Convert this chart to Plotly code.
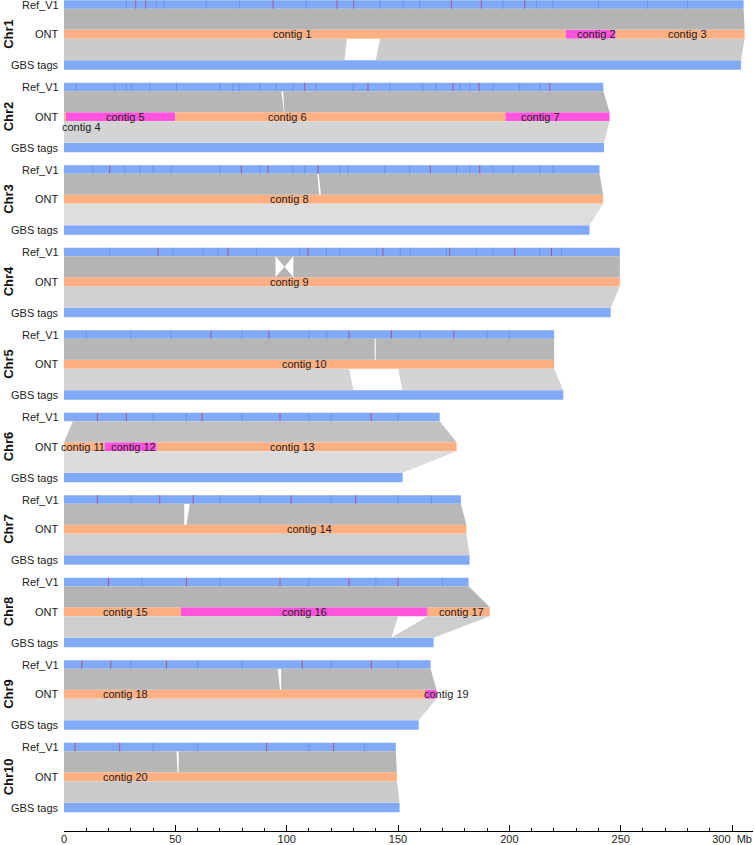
import plotly.graph_objects as go

# ---------------- data (Mb) ----------------
chroms = ["Chr1", "Chr2", "Chr3", "Chr4", "Chr5", "Chr6", "Chr7", "Chr8", "Chr9", "Chr10"]
ref_len = [305.2, 242.2, 240.5, 249.6, 220.1, 168.7, 178.2, 181.7, 164.6, 149.0]
ont_len = [305.6, 245.0, 242.1, 249.6, 220.1, 176.3, 180.7, 191.2, 167.3, 149.5]
gbs_len = [304.0, 242.5, 236.0, 245.5, 224.2, 152.1, 182.1, 166.0, 159.3, 150.7]

contig_names = ["contig 1", "contig 2", "contig 3", "contig 4", "contig 5", "contig 6", "contig 7",
                "contig 8", "contig 9", "contig 10", "contig 11", "contig 12", "contig 13",
                "contig 14", "contig 15", "contig 16", "contig 17", "contig 18", "contig 19", "contig 20"]
contig_chrom = [0, 0, 0, 1, 1, 1, 1, 2, 3, 4, 5, 5, 5, 6, 7, 7, 7, 8, 8, 9]
contig_start = [0, 225.3, 247.7, 0, 0.8, 50.0, 198.2, 0, 0, 0, 0, 18.2, 41.6, 0, 0, 52.5, 163.3, 0, 162.2, 0]
contig_end = [225.3, 247.7, 305.6, 0.8, 50.0, 198.2, 245.0, 242.1, 249.6, 220.1, 18.2, 41.6, 176.3,
              180.7, 52.5, 163.3, 191.2, 162.2, 167.3, 149.5]
contig_kind = ["o", "p", "o", "o", "p", "o", "p", "o", "o", "o", "o", "p", "o", "o", "o", "p", "o", "o", "p", "o"]
contig_label_x = [102.4, 239.2, 280.0, 8.0, 27.7, 100.5, 214.0, 101.3, 101.3, 108.0, 8.4, 31.0, 102.7,
                  110.3, 27.7, 108.0, 178.6, 27.7, 171.8, 27.7]
contig_label_below = [False, False, False, True] + [False] * 16

# synteny blocks Ref_V1 -> ONT : (ref_start, ref_end, ont_start, ont_end)
ref_ont_blocks = [
    [(0, 305.2, 0, 305.6)],
    [(0, 97.6, 0, 98.8), (98.4, 242.2, 99.0, 245.0)],
    [(0, 113.8, 0, 114.6), (114.4, 240.5, 115.4, 242.1)],
    [(0, 95.0, 0, 95.0), (95.0, 103.0, 103.0, 95.0), (103.0, 249.6, 103.0, 249.6)],
    [(0, 139.5, 0, 139.5), (140.0, 220.1, 140.0, 220.1)],
    [(4.0, 168.7, 0, 176.3)],
    [(0, 54.0, 0, 54.0), (56.5, 178.2, 55.0, 180.7)],
    [(0, 181.7, 0, 191.2)],
    [(0, 96.0, 0, 97.0), (97.5, 164.6, 97.5, 167.3)],
    [(0, 50.5, 0, 51.0), (51.5, 149.0, 51.5, 149.5)],
]
# synteny blocks ONT -> GBS tags : (ont_start, ont_end, gbs_start, gbs_end)
ont_gbs_blocks = [
    [(0, 127.0, 0, 126.0), (142.0, 305.6, 140.0, 304.0)],
    [(0, 245.0, 0, 242.5)],
    [(0, 242.1, 0, 236.0)],
    [(0, 249.6, 0, 245.5)],
    [(0, 128.0, 0, 130.0), (150.0, 220.1, 152.0, 224.2)],
    [(0, 176.3, 0, 152.1)],
    [(0, 180.7, 0, 182.1)],
    [(0, 150.0, 0, 147.0), (163.3, 191.2, 147.0, 166.0)],
    [(0, 167.3, 0, 159.3)],
    [(0, 149.5, 0, 150.7)],
]

# marks on Ref_V1 (red) and faint darker stripes
red_marks = [
    [32.2, 36.7, 93.9, 122.6, 130.1, 173.9, 187.4, 206.9],
    [108.1, 136.5, 174.7, 186.4, 218.1],
    [20.5, 79.6, 91.6, 114.1, 164.5, 186.7],
    [42.2, 73.6, 109.6, 143.2, 173.2, 202.4, 218.9],
    [66.0, 92.0, 128.0, 147.0, 175.0],
    [15.0, 28.0, 62.0, 97.0, 138.0],
    [15.0, 43.0, 58.0, 102.0, 131.0],
    [20.0, 55.0, 97.0, 128.0, 150.0],
    [8.0, 21.0, 46.0, 107.0, 138.0],
    [5.0, 25.0, 91.0, 121.0],
]
faint_marks = [
    [28.0, 41.5, 44.8, 63.9, 78.9, 108.8, 141.8, 152.2, 159.7, 197.1, 212.1, 219.6, 240, 262, 280],
    [5.6, 22.8, 28.0, 30.3, 38.5, 50.5, 69.9, 75.9, 78.9, 87.9, 95.4, 102.8, 113.3, 129.8, 146.3,
     161.2, 167.2, 177.7, 182.2, 192.6, 204.6, 213.6],
    [13.0, 27.3, 34.0, 40.0, 48.2, 69.9, 87.9, 102.8, 108.1, 123.8, 127.5, 144.0, 155.2, 176.2,
     182.2, 192.6, 201.6, 213.6, 219.6],
    [20.5, 48.9, 62.4, 69.1, 86.4, 105.8, 117.8, 123.8, 140.3, 151.0, 155.5, 171.7, 185.2, 192.6,
     213.6, 223.4],
    [10, 30, 48, 80, 110, 118, 160, 190, 200],
    [40, 55, 80, 110, 120, 150],
    [30, 70, 88, 120, 150, 165],
    [35, 70, 110, 140, 170],
    [30, 60, 80, 120, 150],
    [40, 60, 110, 135],
]

tick_vals = [0, 50, 100, 150, 200, 250, 300]
tick_text = ["0", "50", "100", "150", "200", "250", "300  Mb"]

# ---------------- styling ----------------
BLUE = "#80aaf6"
ORANGE = "#ffb082"
PINK = "#ff55dc"
TOP_GRAY = ["#b4b4b4", "#b6b6b6", "#b6b6b6", "#b4b4b4", "#b6b6b6",
            "#c2c2c2", "#b8b8b8", "#b4b4b4", "#b8b8b8", "#b6b6b6"]
BOT_GRAY = ["#cbcbcb", "#d4d4d4", "#dedede", "#d0d0d0", "#d4d4d4",
            "#dcdcdc", "#d0d0d0", "#cecece", "#d6d6d6", "#cacaca"]
RED = "#b0457a"
FAINT = "#6b8fe4"
FONT = "Arial, Liberation Sans, sans-serif"

L_MARGIN, R_MARGIN = 64, 2
PLOT_W = 755 - L_MARGIN - R_MARGIN
PITCH = 82.5
REF = (0.3, 8.8)
ONT = (29.8, 38.8)
GBS = (60.3, 69.8)

fig = go.Figure()


def band(blocks, y_top, y_bot, color):
    xs, ys = [], []
    for (a0, a1, b0, b1) in blocks:
        xs += [a0, a1, b1, b0, a0, None]
        ys += [y_top, y_top, y_bot, y_bot, y_top, None]
    fig.add_trace(go.Scatter(x=xs, y=ys, mode="lines", fill="toself", fillcolor=color,
                             line=dict(width=0, color=color), hoverinfo="skip", showlegend=False))


for i, c in enumerate(chroms):
    base = i * PITCH
    band(ref_ont_blocks[i], base + REF[1], base + ONT[0], TOP_GRAY[i])
    band(ont_gbs_blocks[i], base + ONT[1], base + GBS[0], BOT_GRAY[i])

# bars
for i, c in enumerate(chroms):
    base = i * PITCH
    for (lo, hi), ln in ((REF, ref_len[i]), (GBS, gbs_len[i])):
        fig.add_trace(go.Bar(orientation="h", y=[base + (lo + hi) / 2], x=[ln], base=[0],
                             width=[hi - lo], marker=dict(color=BLUE, line=dict(width=0)),
                             hoverinfo="skip", showlegend=False))

for k, name in enumerate(contig_names):
    i = contig_chrom[k]
    base = i * PITCH
    fig.add_trace(go.Bar(orientation="h", y=[base + sum(ONT) / 2],
                         x=[contig_end[k] - contig_start[k]], base=[contig_start[k]],
                         width=[ONT[1] - ONT[0]],
                         marker=dict(color=ORANGE if contig_kind[k] == "o" else PINK, line=dict(width=0)),
                         hoverinfo="skip", showlegend=False))

# marks
for marks, col in ((faint_marks, FAINT), (red_marks, RED)):
    xs, ys = [], []
    for i, lst in enumerate(marks):
        base = i * PITCH
        for p in lst:
            if p < ref_len[i]:
                xs += [p, p, None]
                ys += [base + REF[0], base + REF[1], None]
    fig.add_trace(go.Scatter(x=xs, y=ys, mode="lines", line=dict(color=col, width=1),
                             hoverinfo="skip", showlegend=False, opacity=0.8))

ann = []
for i, c in enumerate(chroms):
    base = i * PITCH
    for txt, (lo, hi) in (("Ref_V1", REF), ("ONT", ONT), ("GBS tags", GBS)):
        ann.append(dict(x=-3 / PLOT_W, y=base + (lo + hi) / 2, xref="paper", yref="y", text=txt,
                        showarrow=False, xanchor="right", yanchor="middle",
                        font=dict(size=11, color="#222", family=FONT)))
    ann.append(dict(x=-55.5 / PLOT_W, y=base + sum(ONT) / 2, xref="paper", yref="y",
                    text="<b>%s</b>" % c, showarrow=False, textangle=-90,
                    xanchor="center", yanchor="middle",
                    font=dict(size=13, color="#111", family=FONT)))

for k, name in enumerate(contig_names):
    i = contig_chrom[k]
    yc = i * PITCH + sum(ONT) / 2 + (10 if contig_label_below[k] else 0)
    ann.append(dict(x=contig_label_x[k], y=yc, xref="x", yref="y", text=name, showarrow=False,
                    xanchor="center", yanchor="middle",
                    font=dict(size=11, color="#222", family=FONT)))

fig.update_layout(
    width=755, height=845,
    margin=dict(l=L_MARGIN, r=R_MARGIN, t=0, b=14),
    paper_bgcolor="white", plot_bgcolor="white",
    barmode="overlay",
    showlegend=False,
    annotations=ann,
    xaxis=dict(range=[0, 309.4], showgrid=False, zeroline=False, showline=True,
               linecolor="black", linewidth=1, ticks="inside", ticklen=6, tickcolor="black",
               tickvals=tick_vals, ticktext=tick_text, automargin=False, ticklabelstandoff=-2,
               tickfont=dict(size=11, color="#222", family=FONT),
               minor=dict(ticks="inside", ticklen=3, dtick=10, tickcolor="black", showgrid=False)),
    yaxis=dict(range=[831, 0], visible=False, showgrid=False, zeroline=False, fixedrange=True),
)

fig.write_html("out.html", config={"displayModeBar": False, "staticPlot": True},
               post_script="document.body.style.margin='0px';")
